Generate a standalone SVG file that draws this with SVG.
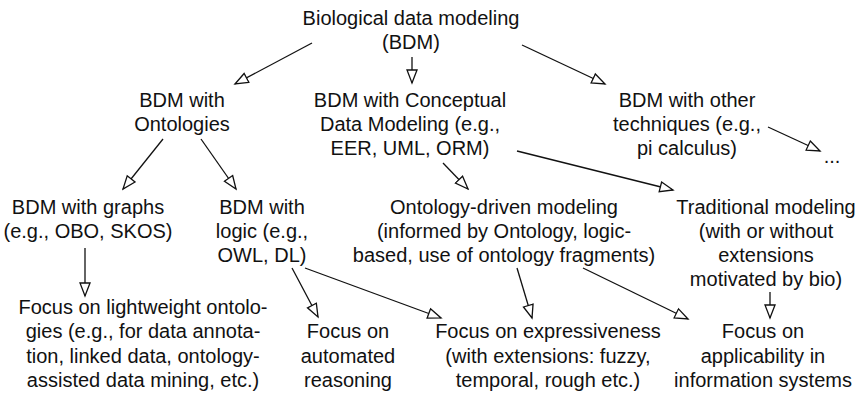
<svg xmlns="http://www.w3.org/2000/svg" width="861" height="397" viewBox="0 0 861 397">
<defs>
<style>
text{font-family:"Liberation Sans",Arial,Helvetica,sans-serif;font-size:20px;fill:#111;text-anchor:middle}
.c line{stroke:#111;stroke-width:1.3;fill:none;marker-end:url(#ah)}
</style>
<marker id="ah" markerUnits="userSpaceOnUse" markerWidth="16" markerHeight="14" refX="14" refY="6" orient="auto" viewBox="0 0 16 12">
<path d="M1,1 L14,6 L1,11 Z" fill="#fff" stroke="#111" stroke-width="1.3"/>
</marker>
</defs>
<rect width="861" height="397" fill="#fff"/>
<g class="c" id="connectors">
<line x1="312" y1="43" x2="235" y2="84"/>
<line x1="412" y1="57" x2="412" y2="83"/>
<line x1="522" y1="45" x2="605" y2="84"/>
<line x1="163" y1="139" x2="123" y2="189"/>
<line x1="201" y1="139" x2="236" y2="189"/>
<line x1="443" y1="163" x2="468" y2="189"/>
<line x1="517" y1="151" x2="673" y2="190"/>
<line x1="768" y1="127" x2="820" y2="151"/>
<line x1="85" y1="248" x2="85" y2="296"/>
<line x1="292" y1="268" x2="318" y2="317"/>
<line x1="305" y1="268" x2="441" y2="318"/>
<line x1="517" y1="268" x2="532" y2="318"/>
<line x1="583" y1="268" x2="688" y2="319"/>
<line x1="770" y1="292" x2="770" y2="318"/>
</g>
<g id="root"><text x="411" y="25">Biological data modeling</text><text x="411" y="49">(BDM)</text></g>
<g id="ontologies"><text x="182" y="107">BDM with</text><text x="182" y="131">Ontologies</text></g>
<g id="conceptual"><text x="410" y="107">BDM with Conceptual</text><text x="410" y="131">Data Modeling (e.g.,</text><text x="410" y="155">EER, UML, ORM)</text></g>
<g id="other"><text x="687" y="107">BDM with other</text><text x="687" y="131">techniques (e.g.,</text><text x="687" y="155">pi calculus)</text></g>
<g id="more"><text x="832" y="163">...</text></g>
<g id="graphs"><text x="88" y="214">BDM with graphs</text><text x="88" y="238">(e.g., OBO, SKOS)</text></g>
<g id="logic"><text x="262" y="214">BDM with</text><text x="262" y="238">logic (e.g.,</text><text x="262" y="262">OWL, DL)</text></g>
<g id="ontology-driven"><text x="504" y="214">Ontology-driven modeling</text><text x="504" y="238">(informed by Ontology, logic-</text><text x="504" y="262">based, use of ontology fragments)</text></g>
<g id="traditional"><text x="766" y="214">Traditional modeling</text><text x="766" y="238">(with or without</text><text x="766" y="262">extensions</text><text x="766" y="286">motivated by bio)</text></g>
<g id="lightweight"><text x="143" y="314">Focus on lightweight ontolo-</text><text x="143" y="338">gies (e.g., for data annota-</text><text x="143" y="363">tion, linked data, ontology-</text><text x="143" y="387">assisted data mining, etc.)</text></g>
<g id="automated"><text x="348" y="338">Focus on</text><text x="348" y="363">automated</text><text x="348" y="387">reasoning</text></g>
<g id="expressiveness"><text x="548" y="338">Focus on expressiveness</text><text x="548" y="363">(with extensions: fuzzy,</text><text x="548" y="387">temporal, rough etc.)</text></g>
<g id="applicability"><text x="763" y="338">Focus on</text><text x="763" y="363">applicability in</text><text x="763" y="387">information systems</text></g>
</svg>
